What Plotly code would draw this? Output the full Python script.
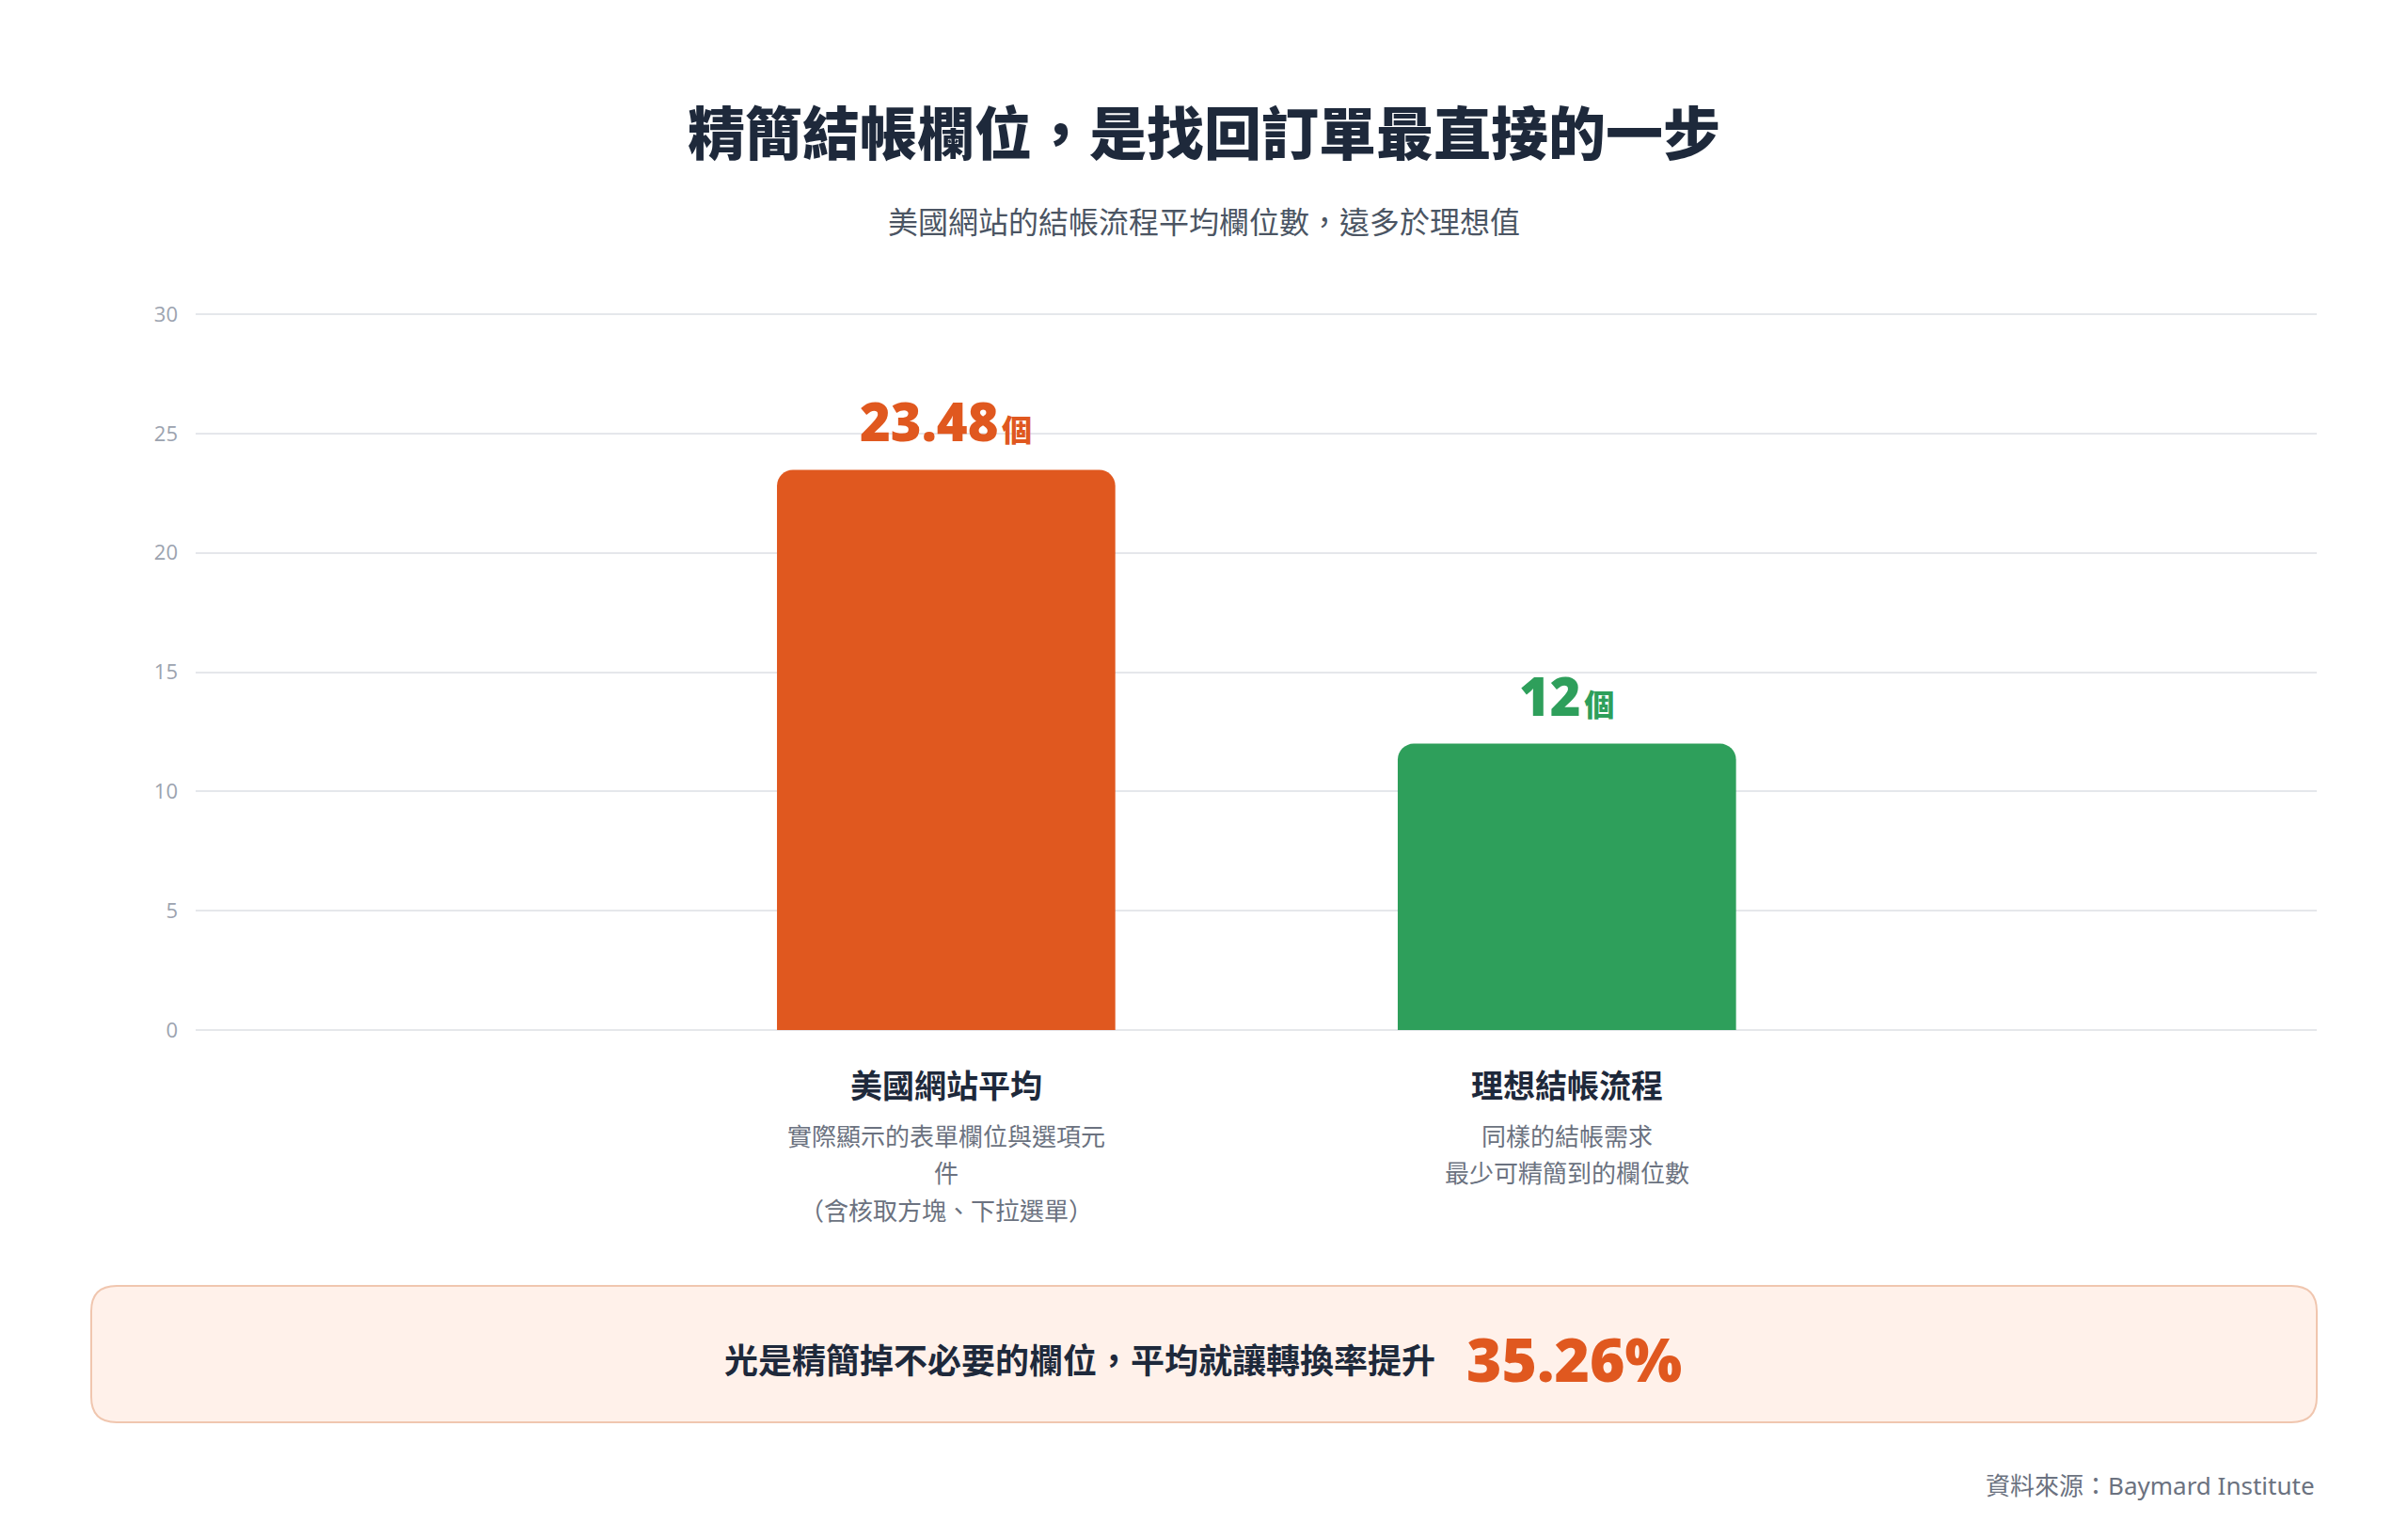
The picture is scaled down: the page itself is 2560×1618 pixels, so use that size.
import plotly.graph_objects as go

# data
categories = ["美國網站平均", "理想結帳流程"]
values = [23.48, 12]
value_text = ["23.48", "12"]
unit = "個"
notes = [
    ["實際顯示的表單欄位與選項元", "件", "（含核取方塊、下拉選單）"],
    ["同樣的結帳需求", "最少可精簡到的欄位數"],
]
bar_colors = ["#E0581F", "#2E9F5B"]
y_ticks = [0, 5, 10, 15, 20, 25, 30]

title = "精簡結帳欄位，是找回訂單最直接的一步"
subtitle = "美國網站的結帳流程平均欄位數，遠多於理想值"
callout_text = "光是精簡掉不必要的欄位，平均就讓轉換率提升"
callout_value = "35.26%"
source = "資料來源：Baymard Institute"

W, H = 2560, 1618
L, R, T, B = 208, 97, 333, 523
PW, PH = W - L - R, H - T - B

CJK = "Noto Sans CJK TC"
NUM = "Open Sans, Noto Sans CJK TC"


def px(xp):
    return (xp - L) / PW


def py(yp):
    return (H - B - yp) / PH


fig = go.Figure()
fig.add_trace(go.Bar(
    x=categories, y=values,
    marker=dict(color=bar_colors, cornerradius=17, line=dict(width=0)),
    width=0.545, hoverinfo="skip",
))

ann = []
# value labels above bars
for c, v, t, col in zip(categories, values, value_text, bar_colors):
    ann.append(dict(
        x=c, y=v, xref="x", yref="y", yanchor="bottom", yshift=12,
        text=t + "<span style='font-size:14px'> </span><span style='font-size:32px'>" + unit + "</span>",
        showarrow=False, font=dict(family=NUM, size=56, color=col, weight=800),
    ))

# category labels under axis
for c, lines in zip(categories, notes):
    ann.append(dict(
        x=c, y=py(1152), xref="x", yref="paper", yanchor="middle",
        text=c, showarrow=False,
        font=dict(family=CJK, size=34, color="#1E293B", weight=700),
    ))
    for i, ln in enumerate(lines):
        ann.append(dict(
            x=c, y=py(1206 + i * 39.5), xref="x", yref="paper", yanchor="middle",
            text=ln, showarrow=False,
            font=dict(family=CJK, size=26, color="#6B7280"),
        ))

ann.append(dict(
    x=px(1280), y=py(234), xref="paper", yref="paper", yanchor="middle",
    text=subtitle, showarrow=False,
    font=dict(family=CJK, size=32, color="#4B5563"),
))

# callout
ann.append(dict(
    x=px(1528), y=py(1444), xref="paper", yref="paper", xanchor="right", yanchor="middle",
    text=callout_text, showarrow=False,
    font=dict(family=CJK, size=36, color="#1E293B", weight=700),
))
ann.append(dict(
    x=px(1557), y=py(1444), xref="paper", yref="paper", xanchor="left", yanchor="middle",
    text=callout_value, showarrow=False,
    font=dict(family=NUM, size=64, color="#E0581F", weight=800),
))

ann.append(dict(
    x=px(2463), y=py(1579), xref="paper", yref="paper", xanchor="right", yanchor="middle",
    text=source, showarrow=False,
    font=dict(family="Noto Sans, Noto Sans CJK TC", size=26, color="#6B7280"),
))

# rounded callout box
x0, x1, y0, y1, r = px(97), px(2463), py(1367), py(1512), 27
rx, ry = r / PW, r / PH
path = (
    f"M {x0+rx},{y0} L {x1-rx},{y0} Q {x1},{y0} {x1},{y0-ry} "
    f"L {x1},{y1+ry} Q {x1},{y1} {x1-rx},{y1} "
    f"L {x0+rx},{y1} Q {x0},{y1} {x0},{y1+ry} "
    f"L {x0},{y0-ry} Q {x0},{y0} {x0+rx},{y0} Z"
)

fig.update_layout(
    width=W, height=H,
    margin=dict(l=L, r=R, t=T, b=B),
    paper_bgcolor="white", plot_bgcolor="white",
    showlegend=False,
    title=dict(
        text=title, x=0.5, xanchor="center", y=1 - 144 / H, yanchor="middle",
        yref="container",
        font=dict(family=CJK, size=61, color="#1E293B", weight=900),
    ),
    xaxis=dict(
        range=[-1.209, 2.208], showticklabels=False, showgrid=False,
        zeroline=False, showline=False, fixedrange=True,
    ),
    yaxis=dict(
        range=[0, 30.04], tickvals=y_ticks, showgrid=True, gridcolor="#E5E7EB",
        gridwidth=2, zeroline=True, zerolinecolor="#E5E7EB", zerolinewidth=2,
        showline=False, ticklabelstandoff=18,
        tickfont=dict(family="Open Sans", size=22, color="#9CA3AF"),
    ),
    annotations=ann,
    shapes=[dict(
        type="path", path=path, xref="paper", yref="paper",
        fillcolor="#FFF1EA", line=dict(color="#F0C6AF", width=2), layer="below",
    )],
)

fig.write_html("out.html", config={"displayModeBar": False},
               post_script="document.body.style.margin='0';")
